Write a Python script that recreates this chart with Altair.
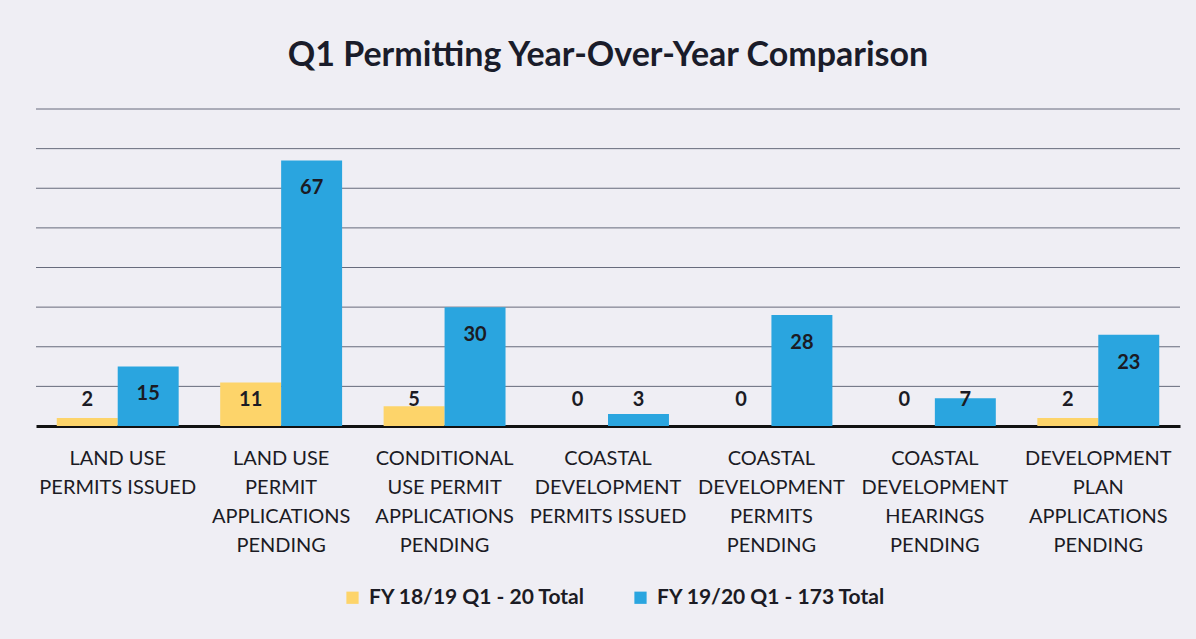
import altair as alt
import pandas as pd

categories = [
    "LAND USE|PERMITS ISSUED",
    "LAND USE|PERMIT|APPLICATIONS|PENDING",
    "CONDITIONAL|USE PERMIT|APPLICATIONS|PENDING",
    "COASTAL|DEVELOPMENT|PERMITS ISSUED",
    "COASTAL|DEVELOPMENT|PERMITS|PENDING",
    "COASTAL|DEVELOPMENT|HEARINGS|PENDING",
    "DEVELOPMENT|PLAN|APPLICATIONS|PENDING",
]
series = ["FY 18/19 Q1 - 20 Total", "FY 19/20 Q1 - 173 Total"]
fy1819 = [2, 11, 5, 0, 0, 0, 2]
fy1920 = [15, 67, 30, 3, 28, 7, 23]
colors = ["#fdd46a", "#2aa5df"]
grid_values = [10, 20, 30, 40, 50, 60, 70, 80]

rows = []
for c, a, b in zip(categories, fy1819, fy1920):
    rows.append({"category": c, "series": series[0], "value": a})
    rows.append({"category": c, "series": series[1], "value": b})
df = pd.DataFrame(rows)
grid_df = pd.DataFrame({"g": grid_values})

font = "Lato"
txt = "#1b1b24"

x = alt.X(
    "category:N",
    sort=categories,
    scale=alt.Scale(paddingInner=0.254, paddingOuter=0.127),
    axis=alt.Axis(
        title=None,
        labelAngle=0,
        labelExpr="split(datum.label, '|')",
        labelFontSize=20,
        labelLineHeight=29,
        labelFont=font,
        labelColor=txt,
        labelPadding=22,
        ticks=False,
        domain=True,
        domainColor="#111111",
        domainWidth=3,
        grid=False,
        labelLimit=300,
    ),
)
xoff = alt.XOffset("series:N", sort=series)

y_scale = alt.Scale(domain=[0, 80], nice=False)

grid = alt.Chart(grid_df).mark_rule(color="#4f5366", strokeWidth=1, opacity=0.85).encode(
    y=alt.Y("g:Q", scale=y_scale, axis=None),
)

bars = alt.Chart(df).mark_bar().encode(
    x=x,
    xOffset=xoff,
    y=alt.Y("value:Q", scale=y_scale, axis=None),
    color=alt.Color(
        "series:N",
        sort=series,
        scale=alt.Scale(domain=series, range=colors),
        legend=alt.Legend(
            title=None,
            orient="none",
            direction="horizontal",
            legendX=306,
            legendY=478,
            symbolType="square",
            symbolSize=150,
            symbolStrokeWidth=0,
            labelFont=font,
            labelFontSize=21,
            labelFontWeight="bold",
            labelColor=txt,
            labelLimit=400,
            columnPadding=44,
            labelOffset=6,
        ),
    ),
)

labels = alt.Chart(df).transform_calculate(
    ly="max(datum.value - 7, 6.5)"
).mark_text(
    font=font, fontSize=20, fontWeight="bold", color=txt, baseline="middle"
).encode(
    x=alt.X("category:N", sort=categories),
    xOffset=xoff,
    y=alt.Y("ly:Q", scale=y_scale, axis=None),
    text=alt.Text("value:Q"),
)

chart = (
    alt.layer(grid, bars, labels)
    .properties(
        width=1144,
        height=317,
        autosize=alt.AutoSizeParams(type="none"),
        padding={"left": 36, "top": 109, "right": 16, "bottom": 213},
        background="#efeef4",
        title=alt.TitleParams(
            "Q1 Permitting Year-Over-Year Comparison",
            font=font,
            fontSize=34,
            fontWeight="bold",
            color="#1a1c2a",
            anchor="middle",
            offset=36,
        ),
    )
    .configure_view(stroke=None)
)

chart.save("out.html", embed_options={"renderer": "svg", "actions": False})
